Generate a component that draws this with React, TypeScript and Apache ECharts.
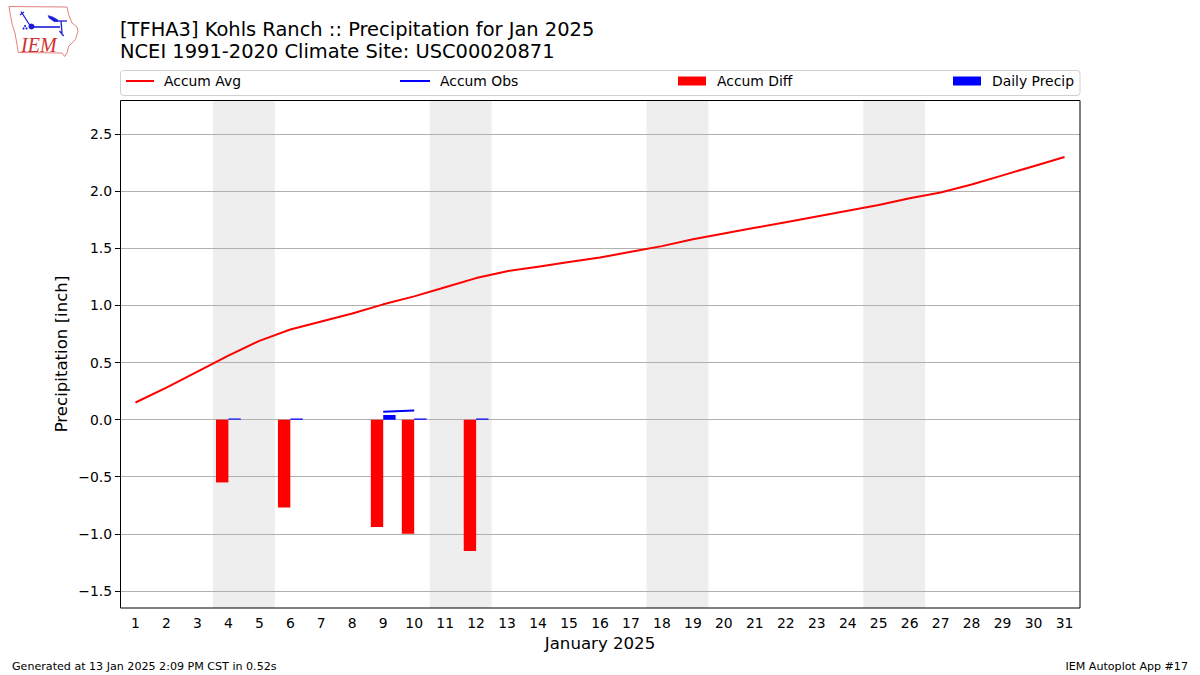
import React, { useEffect, useRef } from "react";
import * as echarts from "echarts";

const days = Array.from({ length: 31 }, (_, i) => String(i + 1));
const accumAvg = [0.15, 0.28, 0.42, 0.56, 0.69, 0.79, 0.86, 0.93, 1.01, 1.08, 1.16, 1.24, 1.3, 1.34, 1.38, 1.42, 1.47, 1.52, 1.58, 1.63, 1.68, 1.73, 1.78, 1.83, 1.88, 1.94, 1.99, 2.06, 2.14, 2.22, 2.3];
const accumObs = [null, null, null, 0.01, null, 0.02, null, null, 0.07, 0.08, null, 0.09, null, null, null, null, null, null, null, null, null, null, null, null, null, null, null, null, null, null, null];
const accumDiff = [null, null, null, -0.55, null, -0.77, null, null, -0.94, -1.0, null, -1.15, null, null, null, null, null, null, null, null, null, null, null, null, null, null, null, null, null, null, null];
const dailyPrecip = [null, null, null, 0.01, null, 0.01, null, null, 0.04, 0.01, null, 0.01, null, null, null, null, null, null, null, null, null, null, null, null, null, null, null, null, null, null, null];
const weekendBands = [[3.5, 5.5], [10.5, 12.5], [17.5, 19.5], [24.5, 26.5]];
const yTicks = [-1.5, -1.0, -0.5, 0, 0.5, 1.0, 1.5, 2.0, 2.5];

const FONT = "'DejaVu Sans', sans-serif";
const IOWA = "M9 6.5 L67 7 L68.7 14.7 L72 23 L77 27 L78 31.3 L75.3 39.7 L68.7 46.3 L67 53 L64.7 56.5 L62 53 L18.3 52.5 L15 33 L12.3 24.7 L10 13 Z";
echarts.graphic.registerShape("iowa", echarts.graphic.extendPath(IOWA, {}) as any);
const WING = "M48 15.5 L53 17 L58 20 L58 21.5 L54 21.5 L49 18 Z";
echarts.graphic.registerShape("wing", echarts.graphic.extendPath(WING, {}) as any);

const legendItem = (name: string, left: number, bar: boolean, width: number, pad: number) => ({
  left,
  top: 74,
  itemWidth: width,
  itemHeight: bar ? 9 : 2,
  itemGap: 0,
  data: [{ name, icon: "rect" }],
  selectedMode: false,
  padding: 0,
  textStyle: { fontFamily: FONT, fontSize: 13.9, color: "#000", padding: [0, 0, 0, pad] },
});

const BLUE = "#1c1cd8";
const stroke = (points: number[][], lineWidth: number) => ({
  type: "polyline",
  shape: { points },
  style: { stroke: BLUE, lineWidth, fill: "none" },
});

export default function App() {
  const ref = useRef<HTMLDivElement>(null);
  useEffect(() => {
    const chart = echarts.init(ref.current!, null, { renderer: "svg" });
    chart.setOption({
      animation: false,
      backgroundColor: "#fff",
      title: {
        text: "[TFHA3] Kohls Ranch :: Precipitation for Jan 2025\nNCEI 1991-2020 Climate Site: USC00020871",
        left: 120,
        top: 18,
        padding: 0,
        textStyle: { fontFamily: FONT, fontSize: 19.45, fontWeight: "normal", color: "#000", lineHeight: 22 },
      },
      legend: [
        legendItem("Accum Avg", 126, false, 28, 5),
        legendItem("Accum Obs", 400, false, 30, 5),
        legendItem("Accum Diff", 678, true, 28, 6),
        legendItem("Daily Precip", 953, true, 28, 6),
      ],
      grid: { left: 120, top: 100, width: 960, height: 508, show: true, borderWidth: 0, backgroundColor: "#fff" },
      xAxis: [
        {
          type: "category",
          data: days,
          name: "January 2025",
          nameLocation: "middle",
          nameGap: 27,
          nameTextStyle: { fontFamily: FONT, fontSize: 16.6, color: "#000" },
          axisLine: { show: false },
          axisTick: { alignWithLabel: true, length: 5, lineStyle: { color: "#000" } },
          axisLabel: { fontFamily: FONT, fontSize: 13.9, color: "#000", margin: 8, interval: 0 },
          splitLine: { show: false },
        },
        { type: "value", min: 0.5, max: 31.5, show: false, splitLine: { show: false } },
      ],
      yAxis: {
        type: "value",
        min: -1.65,
        max: 2.8,
        z: 1.5,
        name: "Precipitation [inch]",
        nameLocation: "middle",
        nameGap: 50,
        nameMoveOverlap: false,
        nameTextStyle: { fontFamily: FONT, fontSize: 16.6, color: "#000" },
        axisLine: { show: false },
        axisTick: { show: true, length: 5, lineStyle: { color: "#000" }, customValues: yTicks },
        axisLabel: {
          fontFamily: FONT,
          fontSize: 13.9,
          color: "#000",
          margin: 8,
          customValues: yTicks,
          formatter: (v: number) => v.toFixed(1).replace("-", "\u2212"),
        },
        splitLine: { show: true, lineStyle: { color: "#b0b0b0", width: 1 } },
      },
      series: [
        {
          name: "Weekend",
          type: "line",
          xAxisIndex: 1,
          data: [],
          markArea: {
            silent: true,
            z: 1,
            itemStyle: { color: "#eeeeee" },
            data: weekendBands.map(([a, b]) => [{ xAxis: a }, { xAxis: b }]),
          },
        },
        { name: "Accum Diff", type: "bar", data: accumDiff, barWidth: "40%", barGap: 0, itemStyle: { color: "#ff0000" } },
        { name: "Daily Precip", type: "bar", data: dailyPrecip, barWidth: "40%", barGap: 0, itemStyle: { color: "#0000ff" } },
        { name: "Accum Avg", type: "line", data: accumAvg, showSymbol: false, itemStyle: { color: "#ff0000" }, lineStyle: { color: "#ff0000", width: 2 } },
        { name: "Accum Obs", type: "line", data: accumObs, showSymbol: false, connectNulls: false, itemStyle: { color: "#0000ff" }, lineStyle: { color: "#0000ff", width: 2 } },
      ],
      graphic: [
        { type: "rect", z: 0, shape: { x: 120.5, y: 70.5, width: 959.5, height: 25, r: 3 }, style: { fill: "#fff", stroke: "#d0d0d0", lineWidth: 1 } },
        { type: "rect", z: 50, silent: true, shape: { x: 120.5, y: 100.5, width: 959.5, height: 507.5 }, style: { fill: "none", stroke: "#000", lineWidth: 1 } },
        { type: "iowa", x: 0, y: 0, style: { fill: "none", stroke: "#e58080", lineWidth: 1 } },
        stroke([[32, 27], [60, 27]], 1.6),
        stroke([[54, 21], [67, 21]], 1.3),
        stroke([[61, 21], [62, 33]], 1.3),
        stroke([[59.5, 31], [63.7, 36]], 1.3),
        stroke([[21, 11.5], [30, 25.5]], 1.3),
        stroke([[20, 15], [24, 12]], 1.2),
        { type: "wing", x: 0, y: 0, style: { fill: BLUE, stroke: BLUE, lineWidth: 0.5 } },
        { type: "circle", shape: { cx: 31.5, cy: 26.5, r: 3 }, style: { fill: BLUE } },
        { type: "circle", shape: { cx: 25, cy: 26, r: 1 }, style: { fill: BLUE } },
        { type: "circle", shape: { cx: 23.5, cy: 28.5, r: 1 }, style: { fill: BLUE } },
        { type: "circle", shape: { cx: 26.5, cy: 28.5, r: 1 }, style: { fill: BLUE } },
        { type: "text", x: 21, y: 35, style: { text: "IEM", fontFamily: "'Liberation Serif', serif", fontStyle: "italic", fontSize: 20, fill: "#d03030" } },
        { type: "text", x: 12, y: 660.5, style: { text: "Generated at 13 Jan 2025 2:09 PM CST in 0.52s", fontFamily: FONT, fontSize: 11.1, fill: "#000" } },
        { type: "text", x: 1188, y: 660.5, style: { text: "IEM Autoplot App #17", align: "right", fontFamily: FONT, fontSize: 11.1, fill: "#000" } },
      ],
    });
    return () => chart.dispose();
  }, []);
  return <div ref={ref} style={{ position: "absolute", left: 0, top: 0, width: 1200, height: 675 }} />;
}
